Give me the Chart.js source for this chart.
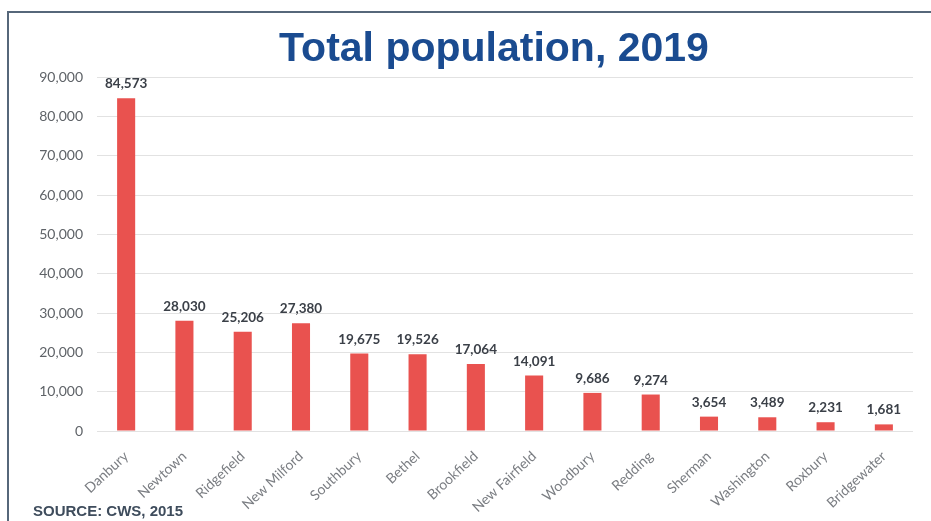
<!DOCTYPE html>
<html>
<head>
<meta charset="utf-8">
<title>Total population, 2019</title>
<script src="https://cdn.jsdelivr.net/npm/chart.js@4/dist/chart.umd.min.js"></script>
<style>
  html, body { margin: 0; padding: 0; background: #fff; overflow: hidden; }
  #wrap { position: relative; width: 931px; height: 521px; }
  #frame {
    position: absolute; left: 7px; top: 11px; width: 940px; height: 540px;
    border-left: 2px solid #56677a; border-top: 2px solid #56677a;
  }
  #chart { position: absolute; left: 0; top: 0; }
  #title {
    position: absolute; left: 0; top: 27px; width: 988px; text-align: center;
    font: bold 41px/41px "Liberation Sans", Arial, sans-serif; color: #1a4b90;
  }
  #source {
    position: absolute; left: 33px; top: 503px;
    font: bold 15px/15px "Liberation Sans", Arial, sans-serif; color: #3e4c5c;
  }
</style>
</head>
<body>
<div id="wrap">
  <div id="frame"></div>
  <canvas id="chart" width="931" height="521"></canvas>
  <div id="title">Total population, 2019</div>
  <div id="source">SOURCE: CWS, 2015</div>
</div>
<script>
// Towns and their 2019 population
const towns = ['Danbury', 'Newtown', 'Ridgefield', 'New Milford', 'Southbury', 'Bethel', 'Brookfield',
  'New Fairfield', 'Woodbury', 'Redding', 'Sherman', 'Washington', 'Roxbury', 'Bridgewater'];
const population = [84573, 28030, 25206, 27380, 19675, 19526, 17064, 14091, 9686, 9274, 3654, 3489, 2231, 1681];
const yTicks = [0, 10000, 20000, 30000, 40000, 50000, 60000, 70000, 80000, 90000];

const fmt = n => n.toLocaleString('en-US');

// Draw the value above each bar
const valueLabels = {
  id: 'valueLabels',
  afterDatasetsDraw(chart) {
    const ctx = chart.ctx;
    const meta = chart.getDatasetMeta(0);
    ctx.save();
    ctx.font = 'bold 13.5px Lato, sans-serif';
    ctx.fillStyle = '#3b4048';
    ctx.textAlign = 'center';
    ctx.textBaseline = 'alphabetic';
    meta.data.forEach((bar, i) => {
      ctx.fillText(fmt(population[i]), bar.x, bar.y - 10);
    });
    ctx.restore();
  }
};

const ctx = document.getElementById('chart').getContext('2d');
new Chart(ctx, {
  type: 'bar',
  data: {
    labels: towns,
    datasets: [{
      data: population,
      backgroundColor: '#e9524f',
      borderWidth: 0,
      categoryPercentage: 1,
      barPercentage: 0.31
    }]
  },
  options: {
    responsive: false,
    animation: false,
    layout: { padding: { left: 0, right: 18, top: 77, bottom: 0 } },
    plugins: {
      legend: { display: false },
      tooltip: { enabled: false }
    },
    scales: {
      x: {
        grid: { display: false },
        border: { display: false },
        ticks: {
          autoSkip: false,
          minRotation: 43,
          maxRotation: 43,
          padding: 9,
          color: '#7a7d82',
          font: { family: 'Lato', size: 14 }
        },
        afterFit(scale) { scale.height = 90; }
      },
      y: {
        min: 0,
        max: 90000,
        afterBuildTicks(scale) { scale.ticks = yTicks.map(v => ({ value: v })); },
        grid: { color: '#e2e2e2', drawTicks: false },
        border: { display: false },
        ticks: {
          padding: 14,
          color: '#5f6368',
          font: { family: 'Lato', size: 14 },
          callback: v => fmt(v)
        },
        afterFit(scale) { scale.width = 97; }
      }
    }
  },
  plugins: [valueLabels]
});
</script>
</body>
</html>
